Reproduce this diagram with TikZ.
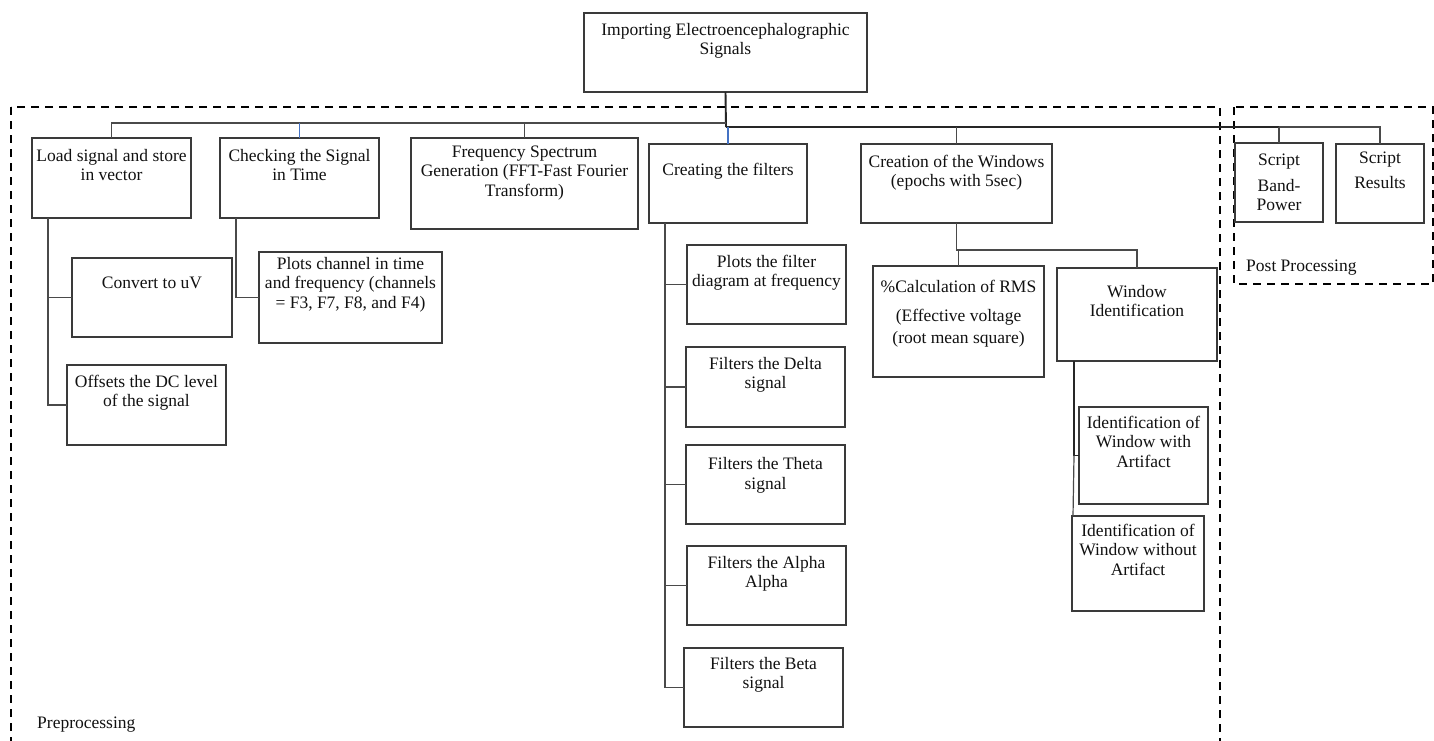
\documentclass[tikz,border=0pt]{standalone}
\usepackage{fontspec}
\setmainfont{Liberation Serif}
\newcommand{\bxt}[4]{\parbox[c][#2pt][t]{#1pt}{\vspace*{#3pt}\centering\strut #4\par}}
\definecolor{boxc}{HTML}{3A3A3A}
\definecolor{linec}{HTML}{4A4A4A}
\definecolor{bluec}{HTML}{4472C4}
\definecolor{txtc}{HTML}{111111}
\tikzset{
  box/.style={draw=boxc, line width=1.3pt, inner sep=0pt, outer sep=0pt, rectangle, anchor=north west, text=txtc},
  conn/.style={draw=linec, line width=1.2pt},
  thickconn/.style={draw=black!85, line width=1.9pt},
  blueconn/.style={draw=bluec, line width=1.1pt},
  group/.style={draw=black, line width=2.4pt, dash pattern=on 8pt off 6pt},
  lbl/.style={inner sep=0pt, anchor=west, text=txtc}
}
\begin{document}
\begin{tikzpicture}[x=1pt, y=-1pt, font=\fontsize{17.5}{19.5}\selectfont]
\useasboundingbox (0,0) rectangle (1434,740);
\clip (0,0) rectangle (1434,740);
\fill[white] (0,0) rectangle (1434,740);

% group frames
\draw[group] (11,107) rectangle (1220,760);
\draw[group] (1234,107) rectangle (1433,284);
\node[lbl] (prelab) at (37,725) {Preprocessing};
\node[lbl] (postlab) at (1246,268) {Post Processing};

% boxes
\node[box] (top) at (584,13) {\bxt{283}{79}{8.4}{Importing Electroencephalographic\\Signals}};
\node[box] (load) at (32,138) {\bxt{159}{80}{9.4}{Load signal and store\\in vector}};
\node[box] (check) at (220,138) {\bxt{159}{80}{9.4}{Checking the Signal\\in Time}};
\node[box] (freq) at (411,138) {\bxt{227}{91}{5.4}{Frequency Spectrum\\Generation (FFT-Fast Fourier\\Transform)}};
\node[box] (filters) at (649,144) {\bxt{158}{79}{17.4}{Creating the filters}};
\node[box] (windows) at (861,144) {\bxt{191}{79}{9.4}{Creation of the Windows\\(epochs with 5sec)}};
\node[box] (bandpower) at (1235,143) {\bxt{88}{79}{8.4}{Script\\[6.5pt]Band-\\Power}};
\node[box] (results) at (1336,144) {\bxt{88}{79}{5.4}{Script\\[5.5pt]Results}};
\node[box] (convert) at (72,258) {\bxt{160}{79}{16.4}{Convert to uV}};
\node[box] (offsets) at (67,365) {\bxt{159}{80}{8.4}{Offsets the DC level\\of the signal}};
\node[box] (plotsch) at (259,252) {\bxt{183}{91}{3.4}{Plots channel in time\\and frequency (channels\\= F3, F7, F8, and F4)}};
\node[box] (pfilter) at (687,245) {\bxt{159}{79}{8.4}{Plots the filter\\diagram at frequency}};
\node[box] (delta) at (686,347) {\bxt{159}{80}{8.4}{Filters the Delta\\signal}};
\node[box] (theta) at (686,445) {\bxt{159}{79}{11}{Filters the Theta\\signal}};
\node[box] (alpha) at (687,546) {\bxt{159}{79}{8.4}{Filters the Alpha\\Alpha}};
\node[box] (beta) at (684,648) {\bxt{159}{79}{7.4}{Filters the Beta\\signal}};
\node[box] (rms) at (873,266) {\bxt{171}{111}{12.4}{\%Calculation of RMS\\[9.5pt](Effective voltage\\[2.5pt](root mean square)}};
\node[box] (winid) at (1057,268) {\bxt{160}{93}{15.4}{Window\\Identification}};
\node[box] (withart) at (1079,407) {\bxt{129}{97}{7.4}{Identification of\\Window with\\Artifact}};
\node[box] (without) at (1072,516) {\bxt{132}{95}{6.4}{Identification of\\Window without\\Artifact}};

% junctions
\coordinate (jL) at (726,123);
\coordinate (jR) at (726,127);
\coordinate (wj) at (957,250);

% top-level connectors
\draw[thickconn] (top.south) -- (jR);
\draw[conn] (jL) -| (load.north);
\draw[blueconn] (check.north) -- (check.north |- jL);
\draw[conn] (freq.north) -- (freq.north |- jL);
\draw[thickconn] (jR) -- (jR -| bandpower.north);
\draw[conn] (jR -| bandpower.north) -| (results.north);
\draw[conn] (bandpower.north) -- (bandpower.north |- jR);
\draw[blueconn] (filters.north) -- (filters.north |- jR);
\draw[conn] (windows.north) -- (windows.north |- jR);

% load branch
\coordinate (ld) at ([xshift=16pt]load.south west);
\draw[conn] (ld) |- (offsets.west);
\draw[conn] (convert.west) -- (convert.west -| ld);

% check branch
\draw[conn] ([xshift=16pt]check.south west) |- (plotsch.west);

% filters branch
\coordinate (fd) at ([xshift=16pt]filters.south west);
\draw[conn] (fd) |- (beta.west);
\draw[conn] (pfilter.west) -- (pfilter.west -| fd);
\draw[conn] (delta.west) -- (delta.west -| fd);
\draw[conn] (theta.west) -- (theta.west -| fd);
\draw[conn] (alpha.west) -- (alpha.west -| fd);

% windows branch
\draw[conn] (windows.south) -- (windows.south |- wj) -| (winid.north);
\draw[conn] (rms.north) -- (rms.north |- wj);

% window identification branch
\coordinate (wi) at ([xshift=17pt]winid.south west);
\draw[thickconn] (wi) |- (withart.west);
\draw[conn] (wi |- withart.west) -- ([xshift=1pt]without.north west);
\end{tikzpicture}
\end{document}
